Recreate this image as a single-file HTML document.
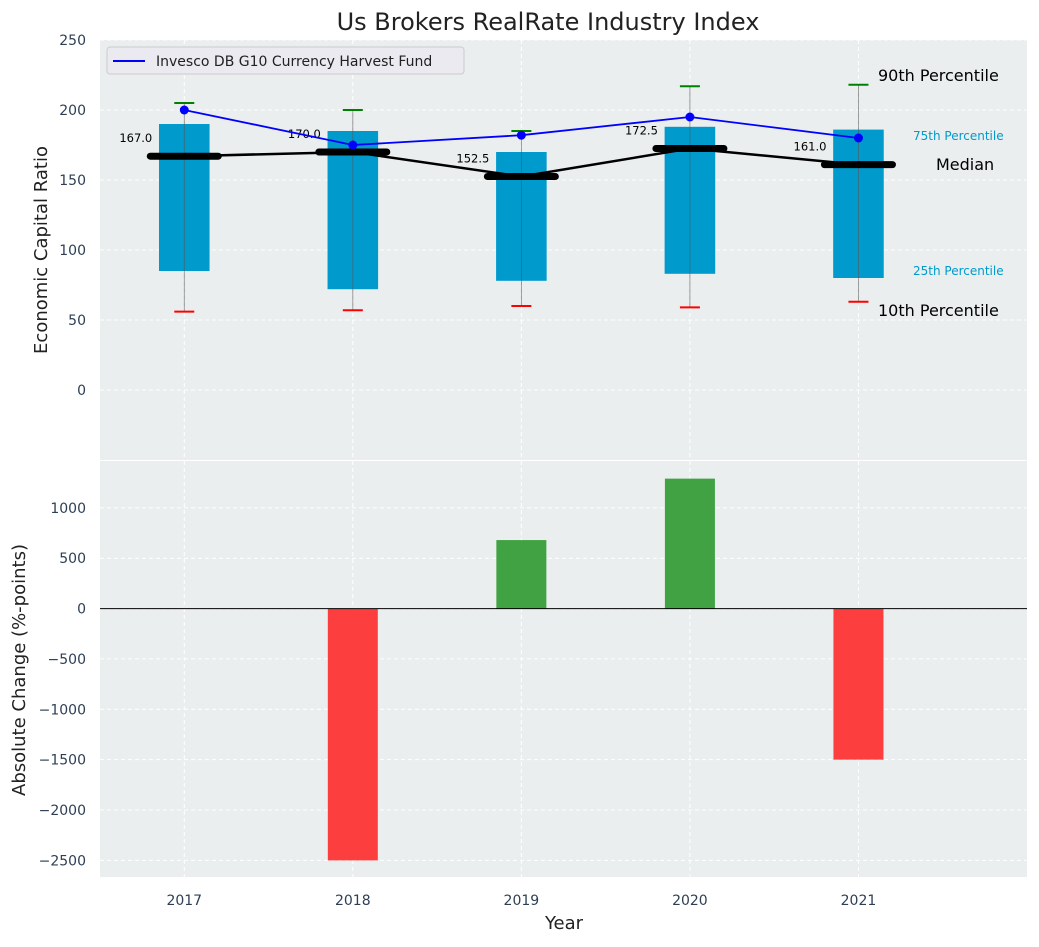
<!DOCTYPE html>
<html><head><meta charset="utf-8"><style>
body{margin:0;background:#fff;font-family:"Liberation Sans","DejaVu Sans",sans-serif;}
svg text{font-family:"DejaVu Sans","Liberation Sans",sans-serif;}
</style></head><body>
<svg id="chart" width="1039" height="942" xmlns="http://www.w3.org/2000/svg"></svg>
<script>
const years=[2017,2018,2019,2020,2021];
const p10=[56,57,60,59,63];
const q25=[85,72,78,83,80];
const medians=[167,170,152.5,172.5,161];
const q75=[190,185,170,188,186];
const p90=[205,200,185,217,218];
const fund=[200,175,182,195,180];
const changes=[0,-2500,680,1290,-1500];
const topTicks=[0,50,100,150,200,250];
const botTicks=[-2500,-2000,-1500,-1000,-500,0,500,1000];

const svg=document.getElementById('chart');
const NS='http://www.w3.org/2000/svg';
function mk(tag,attrs,parent){const e=document.createElementNS(NS,tag);for(const k in attrs)e.setAttribute(k,attrs[k]);(parent||svg).appendChild(e);return e;}
const L=100,R=1027;
const xs=v=>L+(v-2016.5)/(2022-2016.5)*(R-L);
const T0=40,T1=460;const ys=v=>T0+(250-v)/300*(T1-T0);
const B0=461,B1=877;const bMax=1465,bMin=-2665;const yb=v=>B0+(bMax-v)/(bMax-bMin)*(B1-B0);

let e=mk('rect',{x:L,y:T0,width:R-L,height:T1-T0,fill:'#eaeeee'});

e=mk('rect',{x:L,y:B0,width:R-L,height:B1-B0,fill:'#eaeeee'});


years.forEach(y=>{
 mk('line',{x1:xs(y),x2:xs(y),y1:T0,y2:T1,stroke:'#fff','stroke-dasharray':'4,3','stroke-width':1});
 mk('line',{x1:xs(y),x2:xs(y),y1:B0,y2:B1,stroke:'#fff','stroke-dasharray':'4,3','stroke-width':1});
 const t=mk('text',{x:xs(y),y:905,'text-anchor':'middle','font-size':14,fill:'#2e3f55'});t.textContent=y;
 
});
topTicks.forEach(v=>{
 mk('line',{x1:L,x2:R,y1:ys(v),y2:ys(v),stroke:'#fff','stroke-dasharray':'4,3'});
 const t=mk('text',{x:86,y:ys(v)+5,'text-anchor':'end','font-size':14,fill:'#2e3f55'});t.textContent=v;
 
});
botTicks.forEach(v=>{
 mk('line',{x1:L,x2:R,y1:yb(v),y2:yb(v),stroke:'#fff','stroke-dasharray':'4,3'});
 const t=mk('text',{x:86,y:yb(v)+5,'text-anchor':'end','font-size':14,fill:'#2e3f55'});t.textContent=(v<0?'\u2212'+(-v):v);
 
});

const bw=(R-L)/5.5*0.3;
years.forEach((y,i)=>{
 const x=xs(y);
 const r=mk('rect',{x:x-bw/2,y:ys(q75[i]),width:bw,height:ys(q25[i])-ys(q75[i]),fill:'#009acd'});
 
 const w=mk('line',{x1:x,x2:x,y1:ys(p90[i]),y2:ys(p10[i]),stroke:'#555','stroke-width':0.8,opacity:0.7});
 
 const c1=mk('line',{x1:x-10,x2:x+10,y1:ys(p90[i]),y2:ys(p90[i]),stroke:'green','stroke-width':2});
 
 const c2=mk('line',{x1:x-10,x2:x+10,y1:ys(p10[i]),y2:ys(p10[i]),stroke:'red','stroke-width':2});
 
});
let pl=mk('polyline',{points:years.map((y,i)=>xs(y)+','+ys(medians[i])).join(' '),fill:'none',stroke:'#000','stroke-width':2.5});

years.forEach((y,i)=>{
 const x=xs(y);
 const m=mk('line',{x1:x-34,x2:x+34,y1:ys(medians[i]),y2:ys(medians[i]),stroke:'#000','stroke-width':7,'stroke-linecap':'round'});
 
 const t=mk('text',{x:x-32,y:ys(medians[i])-14,'text-anchor':'end','font-size':11.5,fill:'#000'});t.textContent=medians[i].toFixed(1);
 
});
pl=mk('polyline',{points:years.map((y,i)=>xs(y)+','+ys(fund[i])).join(' '),fill:'none',stroke:'blue','stroke-width':1.8});

years.forEach((y,i)=>{const c=mk('circle',{cx:xs(y),cy:ys(fund[i]),r:4.5,fill:'blue'});
 });

[['90th Percentile',878,81,16,'#000'],['75th Percentile',913,140,12,'#009acd'],['Median',936,170,16,'#000'],['25th Percentile',913,275,12,'#009acd'],['10th Percentile',878,316,16,'#000']].forEach(a=>{
 const t=mk('text',{x:a[1],y:a[2],'font-size':a[3],fill:a[4]});t.textContent=a[0];
 
});

const lg=mk('g',{});
mk('rect',{x:107,y:47,width:357,height:27,rx:3,fill:'#eaeaf0',stroke:'#ccc'},lg);
mk('line',{x1:113,x2:145,y1:61,y2:61,stroke:'blue','stroke-width':2},lg);
let t=mk('text',{x:156,y:66,'font-size':14,fill:'#222'},lg);t.textContent='Invesco DB G10 Currency Harvest Fund';

years.forEach((y,i)=>{
 const v=changes[i];const x=xs(y);
 const r=mk('rect',{x:x-25,y:Math.min(yb(v),yb(0)),width:50,height:Math.abs(yb(v)-yb(0)),fill:v>=0?'#2e9930':'#ff2a2a',opacity:0.9});
 
});
mk('line',{x1:L,x2:R,y1:yb(0),y2:yb(0),stroke:'#000','stroke-width':1});

t=mk('text',{x:548,y:30,'text-anchor':'middle','font-size':24,fill:'#222'});t.textContent='Us Brokers RealRate Industry Index';

t=mk('text',{x:0,y:0,'text-anchor':'middle','font-size':18,fill:'#222',transform:'translate(47,250) rotate(-90)'});t.textContent='Economic Capital Ratio';

t=mk('text',{x:0,y:0,'text-anchor':'middle','font-size':18,fill:'#222',transform:'translate(25,670) rotate(-90)'});t.textContent='Absolute Change (%-points)';

t=mk('text',{x:564,y:929,'text-anchor':'middle','font-size':18,fill:'#222'});t.textContent='Year';

</script>
</body></html>
